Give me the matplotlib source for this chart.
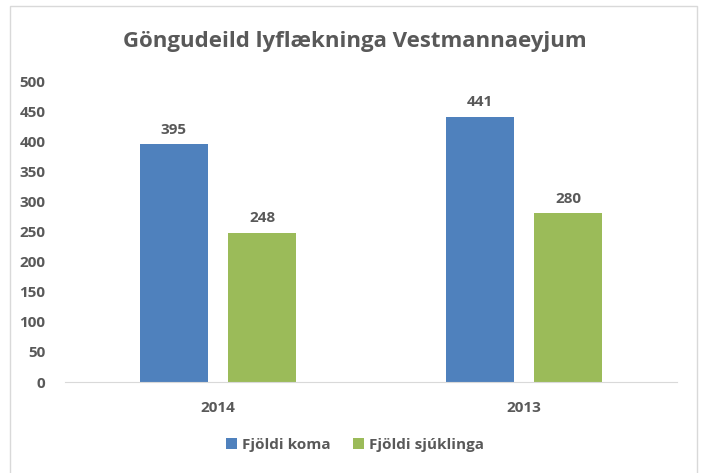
import numpy as np
import matplotlib.pyplot as plt
from matplotlib.patches import Rectangle

# data
years = ['2014', '2013']
komur = [395, 441]
sjuklingar = [248, 280]

text_col = '#595959'
plt.rcParams['font.family'] = ['Open Sans', 'DejaVu Sans']

fig = plt.figure(figsize=(7.03, 4.73), dpi=100)
ax = fig.add_axes([65/703, 1 - 382/473, 612/703, 301/473])

x = np.arange(len(years))
w = 0.222
off = 0.144
b1 = ax.bar(x - off, komur, w, color='#4F81BD', label='Fjöldi koma')
b2 = ax.bar(x + off, sjuklingar, w, color='#9BBB59', label='Fjöldi sjúklinga')

# value labels above the bars
for bars in (b1, b2):
    for r in bars:
        ax.text(r.get_x() + r.get_width()/2, r.get_height() + 12, str(int(r.get_height())),
                ha='center', va='bottom', fontsize=11, fontweight='bold', color=text_col)

ax.set_xlim(-0.5, 1.5)
ax.set_ylim(0, 500)
ax.set_yticks(range(0, 501, 50))
ax.set_xticks(x)
ax.set_xticklabels(years)
for s in ['top', 'right', 'left']:
    ax.spines[s].set_visible(False)
ax.spines['bottom'].set_color('#D9D9D9')
ax.tick_params(axis='both', length=0, labelsize=11, labelcolor=text_col)
ax.tick_params(axis='y', pad=14)
ax.tick_params(axis='x', pad=14)
for lab in ax.get_xticklabels() + ax.get_yticklabels():
    lab.set_fontweight('bold')

fig.text(355/703, 1 - 42/473, 'Göngudeild lyflækninga Vestmannaeyjum', ha='center', va='center',
         fontsize=16, fontweight='bold', color=text_col)

leg = fig.legend(handles=[b1, b2], loc='center', bbox_to_anchor=(355/703, 1 - 445/473),
                 ncol=2, frameon=False, fontsize=11, handlelength=0.7, handleheight=0.7,
                 handletextpad=0.3, columnspacing=1.5)
for t in leg.get_texts():
    t.set_fontweight('bold')
    t.set_color(text_col)

# chart border
fig.patches.append(Rectangle((10/703, -0.05), 687/703, 1.05 - 6/473, transform=fig.transFigure,
                             fill=False, edgecolor='#D9D9D9', linewidth=1))

fig.savefig('out.png', dpi=100)
